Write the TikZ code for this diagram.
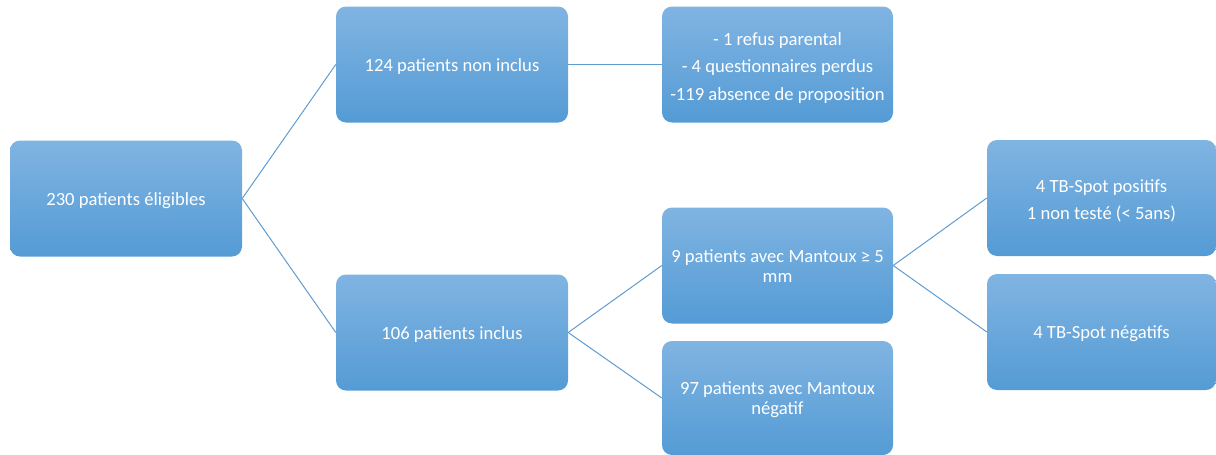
\documentclass[tikz,border=0pt]{standalone}
\usepackage{fontspec}
\setmainfont{Carlito}
\definecolor{boxtop}{RGB}{128,180,226}
\definecolor{boxbot}{RGB}{84,155,213}
\definecolor{linec}{RGB}{96,156,210}
\newcommand{\lowtext}[1]{\raisebox{-2.5pt}[\height][\depth]{\begin{tabular}{@{}c@{}}#1\end{tabular}}}
\begin{document}
\begin{tikzpicture}[x=1pt,y=-1pt,
  box/.style={rectangle, rounded corners=10pt, minimum width=232pt, minimum height=116pt,
    top color=boxtop, bottom color=boxbot, draw=none, text=white,
    font=\fontsize{18.6}{20}\selectfont, align=center, inner sep=0pt},
  listbox/.style={box, font=\fontsize{18.6}{27.5}\selectfont},
  link/.style={draw=linec, line width=1pt}]
\useasboundingbox (0,0) rectangle (1216,455);
\node[box] (A) at (126,198.5) {\lowtext{230 patients éligibles}};
\node[box] (B) at (452,64.5) {\lowtext{124 patients non inclus}};
\node[listbox, minimum width=231pt] (C) at (777.5,64.5) {\lowtext{- 1 refus parental\\- 4 questionnaires perdus\\-119 absence de proposition}};
\node[box] (H) at (452,332.5) {\lowtext{106 patients inclus}};
\node[box, minimum width=231pt] (D) at (777.5,265.5) {\lowtext{9 patients avec Mantoux ≥ 5\\mm}};
\node[box, minimum width=231pt, minimum height=114pt] (E) at (777.5,398) {\lowtext{97 patients avec Mantoux\\négatif}};
\node[listbox, minimum width=229pt] (F) at (1101.5,198) {\lowtext{4 TB-Spot positifs\\1 non testé (< 5ans)}};
\node[box, minimum width=229pt] (G) at (1101.5,332) {\lowtext{4 TB-Spot négatifs}};
\draw[link] (A.east) -- (B.west);
\draw[link] (A.east) -- (H.west);
\draw[link] (B.east) -- (C.west);
\draw[link] (H.east) -- (D.west);
\draw[link] (H.east) -- (E.west);
\draw[link] (D.east) -- (F.west);
\draw[link] (D.east) -- (G.west);
\end{tikzpicture}
\end{document}
